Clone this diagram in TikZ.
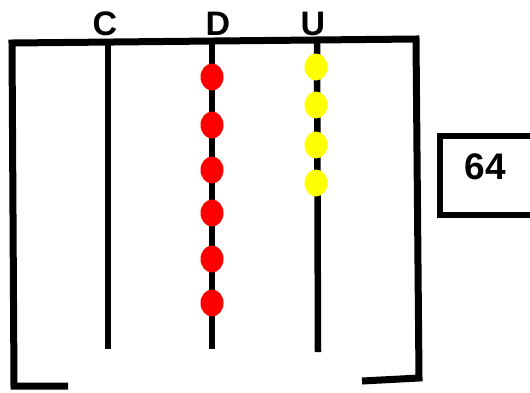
\documentclass[tikz,border=0pt]{standalone}
\usepackage{fontspec}
\setmainfont{Liberation Sans}
\usetikzlibrary{shapes.geometric}

\begin{document}
\begin{tikzpicture}[x=1pt,y=-1pt,
  bead/.style={ellipse,inner sep=0pt,minimum width=23pt,minimum height=27pt},
  rod/.style={line width=6.5pt},
  rodlabel/.style={inner sep=0pt,font=\fontsize{34}{34}\selectfont\bfseries}]
\definecolor{beadred}{HTML}{FF0000}
\definecolor{beadyellow}{HTML}{FFFF00}
\useasboundingbox (0,0) rectangle (530,392);
% frame
\draw[line width=7pt,line join=miter] (68,386) -- (14,386) -- (12,43) -- (416,39) -- (419,378) -- (362,381);
% rods
\coordinate (ctop) at (108,43);  \coordinate (cbot) at (108,349);
\coordinate (dtop) at (212,42);  \coordinate (dbot) at (212,349);
\coordinate (utop) at (317,41);  \coordinate (ubot) at (318,352);
\draw[rod] (ctop) -- (cbot);
\draw[rod] (dtop) -- (dbot);
\draw[rod] (utop) -- (ubot);
\node[rodlabel] (labc) at (105,24) {C};
\node[rodlabel] (labd) at (218,24) {D};
\node[rodlabel] (labu) at (313,24) {U};
% beads
  \foreach \y/\i in {77/1,125/2,170/3,213/4,259/5,303/6}
  {  \node [bead,fill=beadred] (red\i) at (212,\y) {};}
  \foreach \y/\i in {67/1,105/2,145/3,183/4}
  {  \node [bead,fill=beadyellow] (yellow\i) at (316,\y) {};}
% number box
\draw[line width=6.5pt,line join=miter] (533,136) -- (440,136) -- (440,215) -- (533,215) -- cycle;
\node[inner sep=0pt,font=\fontsize{37}{37}\selectfont\bfseries] (num) at (485,167) {64};
\end{tikzpicture}
\end{document}
